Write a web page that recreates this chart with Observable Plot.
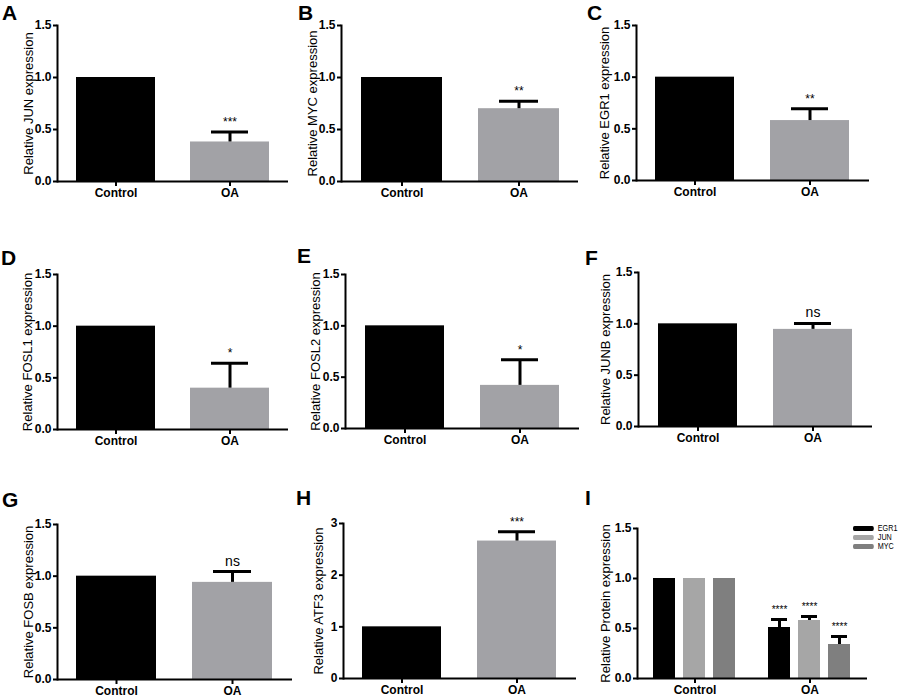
<!DOCTYPE html>
<html>
<head>
<meta charset="utf-8">
<script src="https://cdn.jsdelivr.net/npm/d3@7"></script>
<script src="https://cdn.jsdelivr.net/npm/@observablehq/plot@0.6"></script>
<style>
  html, body { margin: 0; padding: 0; background: #fff; }
  #fig { position: relative; width: 899px; height: 698px; overflow: hidden; background: #fff;
         font-family: "Liberation Sans", Arial, sans-serif; }
  .panel { position: absolute; }
  .letter { position: absolute; font: bold 21px/21px "Liberation Sans", Arial, sans-serif; color: #000; z-index: 5; }
  .legendI { position: absolute; z-index: 6; width: 60px; overflow: visible;
             transform: scaleX(0.8); transform-origin: 0 0; }
  .legendI, .legendI * { font-family: "Liberation Sans", Arial, sans-serif !important;
                          font-size: 9px !important; line-height: 9px !important; color: #000;
                          overflow: visible !important; white-space: nowrap; }
  .legendI div { padding-bottom: 0 !important; margin: 0 !important; max-width: none !important; }
  .legendI svg { margin-right: 5px !important; }
  .legendI rect { rx: 2px; ry: 2px; }
</style>
</head>
<body>
<div id="fig"></div>
<script>
// ---------------- data ----------------
const groups = ["Control", "OA"];
const panelLetters = ["A", "B", "C", "D", "E", "F", "G", "H"];
const genes = ["JUN", "MYC", "EGR1", "FOSL1", "FOSL2", "JUNB", "FOSB", "ATF3"];
const controlValues = [1, 1, 1, 1, 1, 1, 1, 1];
const oaValues = [0.38, 0.70, 0.58, 0.40, 0.42, 0.946, 0.94, 2.66];
const oaErrorTops = [0.475, 0.772, 0.694, 0.64, 0.67, 1.004, 1.045, 2.84];
const oaSignif = ["***", "**", "**", "*", "*", "ns", "ns", "***"];
const yTicks15 = [0, 0.5, 1.0, 1.5];
const yTicks3 = [0, 1, 2, 3];

const proteinGenes = ["EGR1", "JUN", "MYC"];
const proteinControl = [1, 1, 1];
const proteinOA = [0.51, 0.58, 0.34];
const proteinOAErrTop = [0.59, 0.62, 0.42];
const proteinSignif = ["****", "****", "****"];
const proteinLabel = "Relative Protein expression";

// ---------------- styles / layout ----------------
const groupColors = ["#000000", "#a2a2a6"];
const proteinColors = ["#000000", "#a6a6a6", "#7f7f7f"];
const FONT = "Liberation Sans, Arial, sans-serif";

const layout = [
  {left: 0,   top: 0,   width: 295, height: 225, axisX: 57,  yTop: 25,  yZero: 181, xEnd: 288, labelDx: -29, lx: 2,   ly: 5},
  {left: 295, top: 0,   width: 295, height: 225, axisX: 341, yTop: 25,  yZero: 181, xEnd: 578, labelDx: -29, lx: 298, ly: 5},
  {left: 590, top: 0,   width: 309, height: 225, axisX: 636, yTop: 25,  yZero: 180, xEnd: 869, labelDx: -32, lx: 587, ly: 5},
  {left: 0,   top: 225, width: 295, height: 240, axisX: 57,  yTop: 274, yZero: 429, xEnd: 288, labelDx: -30, lx: 1,   ly: 250},
  {left: 295, top: 225, width: 295, height: 240, axisX: 345, yTop: 274, yZero: 428, xEnd: 579, labelDx: -30, lx: 297, ly: 248},
  {left: 590, top: 225, width: 309, height: 240, axisX: 638, yTop: 272, yZero: 426, xEnd: 872, labelDx: -33, lx: 585, ly: 250},
  {left: 0,   top: 465, width: 295, height: 233, axisX: 57,  yTop: 524, yZero: 679, xEnd: 292, labelDx: -29, lx: 2,   ly: 492},
  {left: 295, top: 465, width: 295, height: 233, axisX: 343, yTop: 523, yZero: 678, xEnd: 576, labelDx: -25, lx: 296, ly: 490},
  {left: 590, top: 465, width: 309, height: 233, axisX: 636, yTop: 528, yZero: 678, xEnd: 867, labelDx: -32, lx: 585, ly: 490}
];

const fig = document.getElementById("fig");

function margins(L) {
  return {
    width: L.width, height: L.height,
    marginLeft: L.axisX - L.left,
    marginTop: L.yTop - L.top,
    marginBottom: L.top + L.height - L.yZero,
    marginRight: L.left + L.width - L.xEnd
  };
}

function place(node, L) {
  const d = document.createElement("div");
  d.className = "panel";
  d.style.left = L.left + "px";
  d.style.top = L.top + "px";
  d.appendChild(node);
  fig.appendChild(d);
}

function letter(t, L) {
  const s = document.createElement("div");
  s.className = "letter";
  s.textContent = t;
  s.style.left = L.lx + "px";
  s.style.top = (L.ly - 3) + "px";
  fig.appendChild(s);
}

const axisFont = {fontSize: 12, fontWeight: "bold", fontFamily: FONT};

// ---------------- panels A-H ----------------
genes.forEach((gene, i) => {
  const L = layout[i];
  const isATF3 = gene === "ATF3";
  const data = groups.map((g, j) => ({
    group: g,
    value: j === 0 ? controlValues[i] : oaValues[i],
    err: j === 0 ? null : oaErrorTops[i],
    sig: j === 0 ? null : oaSignif[i]
  }));
  const errData = data.filter(d => d.err != null);
  const chart = Plot.plot({
    ...margins(L),
    style: {fontFamily: FONT, background: "transparent", overflow: "visible"},
    x: {domain: groups, paddingInner: 0.31, paddingOuter: 0.165, axis: null},
    y: {domain: isATF3 ? [0, 3] : [0, 1.5], axis: null},
    color: {domain: groups, range: groupColors},
    marks: [
      Plot.barY(data, {x: "group", y: "value", fill: "group"}),
      Plot.ruleX(errData, {x: "group", y1: "value", y2: "err", stroke: "#000", strokeWidth: 3}),
      Plot.tickY(errData, {x: "group", y: "err", stroke: "#000", strokeWidth: 3, insetLeft: 21, insetRight: 21}),
      Plot.text(errData, {x: "group", y: "err", text: "sig", lineAnchor: "bottom", dy: -6,
        fontFamily: FONT, fontSize: oaSignif[i] === "ns" ? 14 : 12}),
      Plot.ruleY([0], {stroke: "#000", strokeWidth: 2}),
      Plot.frame({anchor: "left", stroke: "#000", strokeWidth: 2}),
      Plot.axisY({ticks: isATF3 ? yTicks3 : yTicks15, tickFormat: isATF3 ? d3.format("d") : d3.format(".1f"),
        tickSize: 4, tickPadding: 2, strokeWidth: 2, label: null, ...axisFont}),
      Plot.axisX({tickSize: 5, tickPadding: 2, strokeWidth: 2, label: null, ...axisFont}),
      Plot.text([`Relative ${gene} expression`], {frameAnchor: "left", textAnchor: "middle", rotate: -90,
        dx: L.labelDx, fontSize: 13, fontWeight: "normal", fontFamily: FONT})
    ]
  });
  place(chart, L);
  letter(panelLetters[i], L);
});

// ---------------- panel I ----------------
{
  const L = layout[8];
  const pdata = [];
  groups.forEach((g, j) => {
    proteinGenes.forEach((p, k) => {
      pdata.push({
        group: g, gene: p,
        value: j === 0 ? proteinControl[k] : proteinOA[k],
        err: j === 0 ? null : proteinOAErrTop[k],
        sig: j === 0 ? null : proteinSignif[k]
      });
    });
  });
  const errData = pdata.filter(d => d.err != null);
  const chart = Plot.plot({
    ...margins(L),
    style: {fontFamily: FONT, background: "transparent", overflow: "visible"},
    fx: {domain: groups, padding: 0, axis: null, label: null},
    x: {domain: proteinGenes, paddingInner: 0.26, paddingOuter: 0.49, axis: null},
    y: {domain: [0, 1.5], axis: null},
    color: {domain: proteinGenes, range: proteinColors},
    marks: [
      Plot.barY(pdata, {fx: "group", x: "gene", y: "value", fill: "gene"}),
      Plot.ruleX(errData, {fx: "group", x: "gene", y1: "value", y2: "err", stroke: "#000", strokeWidth: 3}),
      Plot.tickY(errData, {fx: "group", x: "gene", y: "err", stroke: "#000", strokeWidth: 3, insetLeft: 3, insetRight: 3}),
      Plot.text(errData, {fx: "group", x: "gene", y: "err", text: "sig", lineAnchor: "bottom", dy: -6.5,
        fontSize: 10, fontFamily: FONT}),
      Plot.ruleY([0], {stroke: "#000", strokeWidth: 2}),
      Plot.frame({anchor: "left", facetAnchor: "left", stroke: "#000", strokeWidth: 2}),
      Plot.axisY({ticks: yTicks15, tickFormat: d3.format(".1f"), tickSize: 4, tickPadding: 2, strokeWidth: 2,
        label: null, ...axisFont}),
      Plot.axisFx({anchor: "bottom", tickSize: 5, tickPadding: 2, strokeWidth: 2, label: null, ...axisFont}),
      Plot.text([{group: "Control", label: proteinLabel}], {fx: "group", text: "label", frameAnchor: "left",
        textAnchor: "middle", rotate: -90, dx: L.labelDx, fontSize: 13, fontWeight: "normal", fontFamily: FONT})
    ]
  });
  place(chart, L);
  letter("I", L);

  const legend = Plot.legend({
    color: {type: "ordinal", domain: proteinGenes, range: proteinColors},
    legend: "swatches", columns: 1, swatchWidth: 26, swatchHeight: 5
  });
  const lg = document.createElement("div");
  lg.className = "legendI";
  lg.style.left = "853px";
  lg.style.top = "524px";
  lg.appendChild(legend);
  fig.appendChild(lg);
}
</script>
</body>
</html>
